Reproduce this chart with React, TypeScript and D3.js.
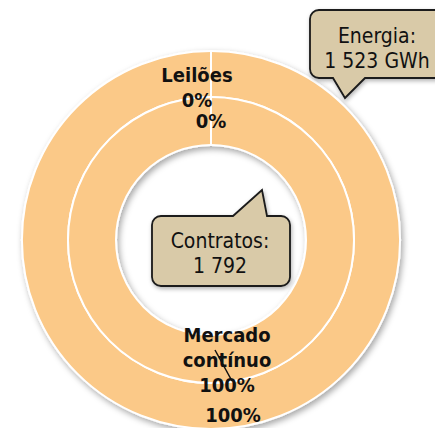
import React from 'react';
import * as d3 from 'd3';

// categories shared by both rings
const categories: string[] = ['Leilões', 'Mercado contínuo'];
// inner ring: number of contracts
const contratos: number[] = [0, 1792];
// outer ring: energy (GWh)
const energia: number[] = [0, 1523];

const calloutEnergia: string[] = ['Energia:', '1 523 GWh'];
const calloutContratos: string[] = ['Contratos:', '1 792'];

const width = 435;
const height = 428;
const cx = 211;
const cy = 240;
const rHole = 95;
const rMid = 143;
const rOuter = 189;

const ringColor = '#FBC988';
const boxColor = '#D9CAA8';
const font = '"DejaVu Sans Condensed", "DejaVu Sans", sans-serif';

// label nudges (Excel moved them by hand)
const innerLabelNudge: [number, number][] = [[-14, -39], [16, -17]];
const outerLabelNudge: [number, number][] = [[0, 54], [22, 16]];

function calloutPath(x: number, y: number, w: number, h: number, r: number,
    side: 'top' | 'bottom', b0: number, b1: number, tip: [number, number]) {
    const p = d3.path();
    p.moveTo(x + r, y);
    if (side === 'top') {
        p.lineTo(b0, y);
        p.lineTo(tip[0], tip[1]);
        p.lineTo(b1, y);
    }
    p.lineTo(x + w - r, y);
    p.arcTo(x + w, y, x + w, y + r, r);
    p.lineTo(x + w, y + h - r);
    p.arcTo(x + w, y + h, x + w - r, y + h, r);
    if (side === 'bottom') {
        p.lineTo(b1, y + h);
        p.lineTo(tip[0], tip[1]);
        p.lineTo(b0, y + h);
    }
    p.lineTo(x + r, y + h);
    p.arcTo(x, y + h, x, y + h - r, r);
    p.lineTo(x, y + r);
    p.arcTo(x, y, x + r, y, r);
    p.closePath();
    return p.toString();
}

function App() {
    const pie = d3.pie<number>().sort(null).value((d) => d);
    const innerArcs = pie(contratos);
    const outerArcs = pie(energia);

    const innerArc = d3.arc<d3.PieArcDatum<number>>().innerRadius(rHole).outerRadius(rMid);
    const outerArc = d3.arc<d3.PieArcDatum<number>>().innerRadius(rMid).outerRadius(rOuter);

    const pct = d3.format('.0%');
    const innerSum = d3.sum(contratos);
    const outerSum = d3.sum(energia);

    const leaderStart = innerArc.centroid(innerArcs[1]);
    const leaderLine = d3.line()([
        [leaderStart[0] + innerLabelNudge[1][0] - 12, leaderStart[1] + innerLabelNudge[1][1] + 8],
        [leaderStart[0] + innerLabelNudge[1][0] + 5, leaderStart[1] + innerLabelNudge[1][1] + 39],
    ]);

    // radial white separators at each slice start
    const radial = (a: number, r0: number, r1: number) => d3.line()([
        d3.pointRadial(a, r0) as [number, number],
        d3.pointRadial(a, r1) as [number, number],
    ]) ?? '';

    const calloutText = (lines: string[], x: number, y0: number) => lines.map((t, i) => (
        <text key={i} x={x} y={y0 + i * 25} textAnchor="middle" fontSize={21} fill="#111" fontFamily={font}>{t}</text>
    ));

    return (
        <svg width={width} height={height} style={{ position: 'absolute', left: 0, top: 0, background: '#fff' }}>
            <defs>
                <filter id="shadow" x="-20%" y="-20%" width="140%" height="140%">
                    <feDropShadow dx="2" dy="3" stdDeviation="3" floodColor="#000" floodOpacity="0.35" />
                </filter>
                <filter id="boxShadow" x="-20%" y="-20%" width="140%" height="140%">
                    <feDropShadow dx="1" dy="2" stdDeviation="2" floodColor="#000" floodOpacity="0.3" />
                </filter>
            </defs>
            <g transform={`translate(${cx},${cy})`}>
                <g filter="url(#shadow)">
                    {outerArcs.map((d, i) => (
                        <path key={'o' + i} d={outerArc(d) ?? ''} fill={ringColor} stroke="#fff" strokeWidth={2} />
                    ))}
                    {innerArcs.map((d, i) => (
                        <path key={'i' + i} d={innerArc(d) ?? ''} fill={ringColor} stroke="#fff" strokeWidth={2} />
                    ))}
                </g>
                {outerArcs.map((d, i) => (
                    <path key={'os' + i} d={radial(d.startAngle, rMid, rOuter)} stroke="#fff" strokeWidth={2} />
                ))}
                {innerArcs.map((d, i) => (
                    <path key={'is' + i} d={radial(d.startAngle, rHole, rMid)} stroke="#fff" strokeWidth={2} />
                ))}
                {innerArcs.map((d, i) => {
                    const [x, y] = innerArc.centroid(d);
                    const words = categories[i].split(' ');
                    const lines = [...words, pct(d.data / innerSum)];
                    return (
                        <g key={'il' + i} fontFamily={font} fontWeight="bold" fontSize={20} fill="#111" textAnchor="middle">
                            {lines.map((t, j) => (
                                <text key={j} x={x + innerLabelNudge[i][0]} y={y + innerLabelNudge[i][1] + j * 25}>{t}</text>
                            ))}
                        </g>
                    );
                })}
                {outerArcs.map((d, i) => {
                    const [x, y] = outerArc.centroid(d);
                    return (
                        <text key={'ol' + i} x={x + outerLabelNudge[i][0]} y={y + outerLabelNudge[i][1]}
                            fontFamily={font} fontWeight="bold" fontSize={20} fill="#111" textAnchor="middle">
                            {pct(d.data / outerSum)}
                        </text>
                    );
                })}
                <path d={leaderLine ?? ''} stroke="#111" strokeWidth={1.5} fill="none" />
            </g>
            <path d={calloutPath(310, 10, 140, 68, 9, 'bottom', 333, 365, [345, 98])}
                fill={boxColor} stroke="#1a1a1a" strokeWidth={1.8} filter="url(#boxShadow)" />
            {calloutText(calloutEnergia, 377, 43)}
            <path d={calloutPath(152, 216, 138, 70, 9, 'top', 233, 267, [262, 190])}
                fill={boxColor} stroke="#1a1a1a" strokeWidth={1.8} filter="url(#boxShadow)" />
            {calloutText(calloutContratos, 220, 248)}
        </svg>
    );
}

export default App;
